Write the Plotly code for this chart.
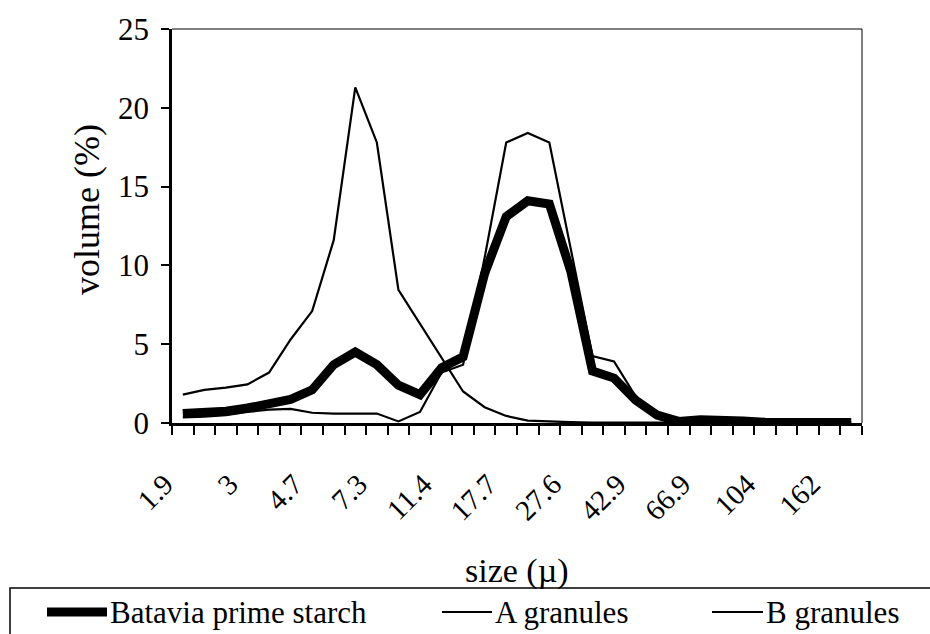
import plotly.graph_objects as go

# Particle-size classes (µm), one per category on the x axis
SIZES = ["1.9", "2.2", "2.55", "3", "3.45", "4", "4.7", "5.4", "6.3", "7.3",
         "8.5", "9.8", "11.4", "13.2", "15.3", "17.7", "20.5", "23.8", "27.6", "32",
         "37.1", "42.9", "49.8", "57.7", "66.9", "77.5", "89.9", "104", "121", "140",
         "162", "188"]

# Volume distribution (%) for each size class
BATAVIA = [0.6, 0.65, 0.75, 0.95, 1.25, 1.5, 2.1, 3.7, 4.5, 3.7,
           2.4, 1.8, 3.5, 4.2, 9.5, 13.1, 14.1, 13.9, 9.6, 3.3,
           2.85, 1.45, 0.5, 0.1, 0.2, 0.2, 0.12, 0.05, 0.03, 0.03,
           0.03, 0.03]
A_GRANULES = [0.35, 0.4, 0.5, 0.7, 0.85, 0.9, 0.65, 0.6, 0.6, 0.6,
              0.1, 0.7, 3.2, 3.7, 10.5, 17.8, 18.4, 17.8, 11.0, 4.25,
              3.9, 1.7, 0.5, 0.1, 0.2, 0.2, 0.12, 0.03, 0.03, 0.03,
              0.03, 0.03]
B_GRANULES = [1.8, 2.1, 2.25, 2.45, 3.2, 5.3, 7.1, 11.6, 21.3, 17.8,
              8.45, 6.3, 4.1, 2.0, 1.0, 0.45, 0.15, 0.08, 0.05, 0.03,
              0.03, 0.03, 0.03, 0.03, 0.03, 0.03, 0.03, 0.03, 0.03, 0.03,
              0.03, 0.03]

SERIES_NAMES = ["Batavia prime starch", "A granules", "B granules"]
LABEL_EVERY = 3

W, H = 930, 634
L, R, T, B = 172, 862, 29, 423  # plot-area edges in pixels
FONT = "Liberation Serif, Times New Roman, serif"


def px_x(p):
    return (p - L) / (R - L)


def px_y(p):
    return (B - p) / (B - T)


idx = list(range(len(SIZES)))
fig = go.Figure()
series = [(BATAVIA, 9), (A_GRANULES, 2.2), (B_GRANULES, 2.2)]
for (vals, width), name in zip(series, SERIES_NAMES):
    fig.add_trace(go.Scatter(x=idx, y=vals, mode="lines", name=name,
                             line=dict(color="black", width=width),
                             showlegend=False))

tickvals = idx[::LABEL_EVERY]
ticktext = SIZES[::LABEL_EVERY]

fig.update_layout(
    width=W, height=H,
    margin=dict(l=L, r=W - R, t=T, b=H - B),
    paper_bgcolor="white", plot_bgcolor="white",
    font=dict(family=FONT, color="black"),
    xaxis=dict(
        range=[-0.5, len(SIZES) - 0.5], tickmode="array",
        tickvals=tickvals, ticktext=ticktext, tickangle=-45,
        tickfont=dict(size=29), ticks="", ticklabelstandoff=30,
        ticklabelshift=-18,
        showline=True, linecolor="black", linewidth=2.5,
        showgrid=False, zeroline=False,
        minor=dict(tickmode="linear", tick0=-0.5, dtick=1, ticks="outside",
                   ticklen=9, tickwidth=1.6, tickcolor="black", showgrid=False),
    ),
    yaxis=dict(
        range=[0, 25], dtick=5, ticks="outside", ticklen=8, tickwidth=2,
        tickcolor="black", tickfont=dict(size=31), ticklabelstandoff=6,
        showline=True, linecolor="black", linewidth=2.5,
        showgrid=False, zeroline=False,
    ),
)

# thin frame on top and right of the plot area
fig.add_shape(type="line", xref="paper", yref="paper", x0=0, x1=1, y0=1, y1=1,
              line=dict(color="black", width=1))
fig.add_shape(type="line", xref="paper", yref="paper", x0=1, x1=1, y0=0, y1=1,
              line=dict(color="black", width=1))

# axis titles
fig.add_annotation(text="size (µ)", xref="paper", yref="paper",
                   x=px_x(517), y=px_y(571), showarrow=False,
                   font=dict(size=34), xanchor="center", yanchor="middle")
fig.add_annotation(text="volume (%)", xref="paper", yref="paper",
                   x=px_x(87), y=px_y(210), showarrow=False, textangle=-90,
                   font=dict(size=36), xanchor="center", yanchor="middle")

# legend box
fig.add_shape(type="rect", xref="paper", yref="paper",
              x0=px_x(10), x1=px_x(945), y0=px_y(588), y1=px_y(650),
              line=dict(color="black", width=1.5))
legend_items = [(47, 107, 9), (442, 492, 2.2), (712, 763, 2.2)]
LEG_Y = 612
for (x0, x1, lw), name in zip(legend_items, SERIES_NAMES):
    fig.add_shape(type="line", xref="paper", yref="paper",
                  x0=px_x(x0), x1=px_x(x1), y0=px_y(LEG_Y), y1=px_y(LEG_Y),
                  line=dict(color="black", width=lw))
    fig.add_annotation(text=name, xref="paper", yref="paper",
                       x=px_x(x1 + 1), y=px_y(LEG_Y), showarrow=False,
                       font=dict(size=31), xanchor="left", yanchor="middle")

fig.write_html("out.html")
